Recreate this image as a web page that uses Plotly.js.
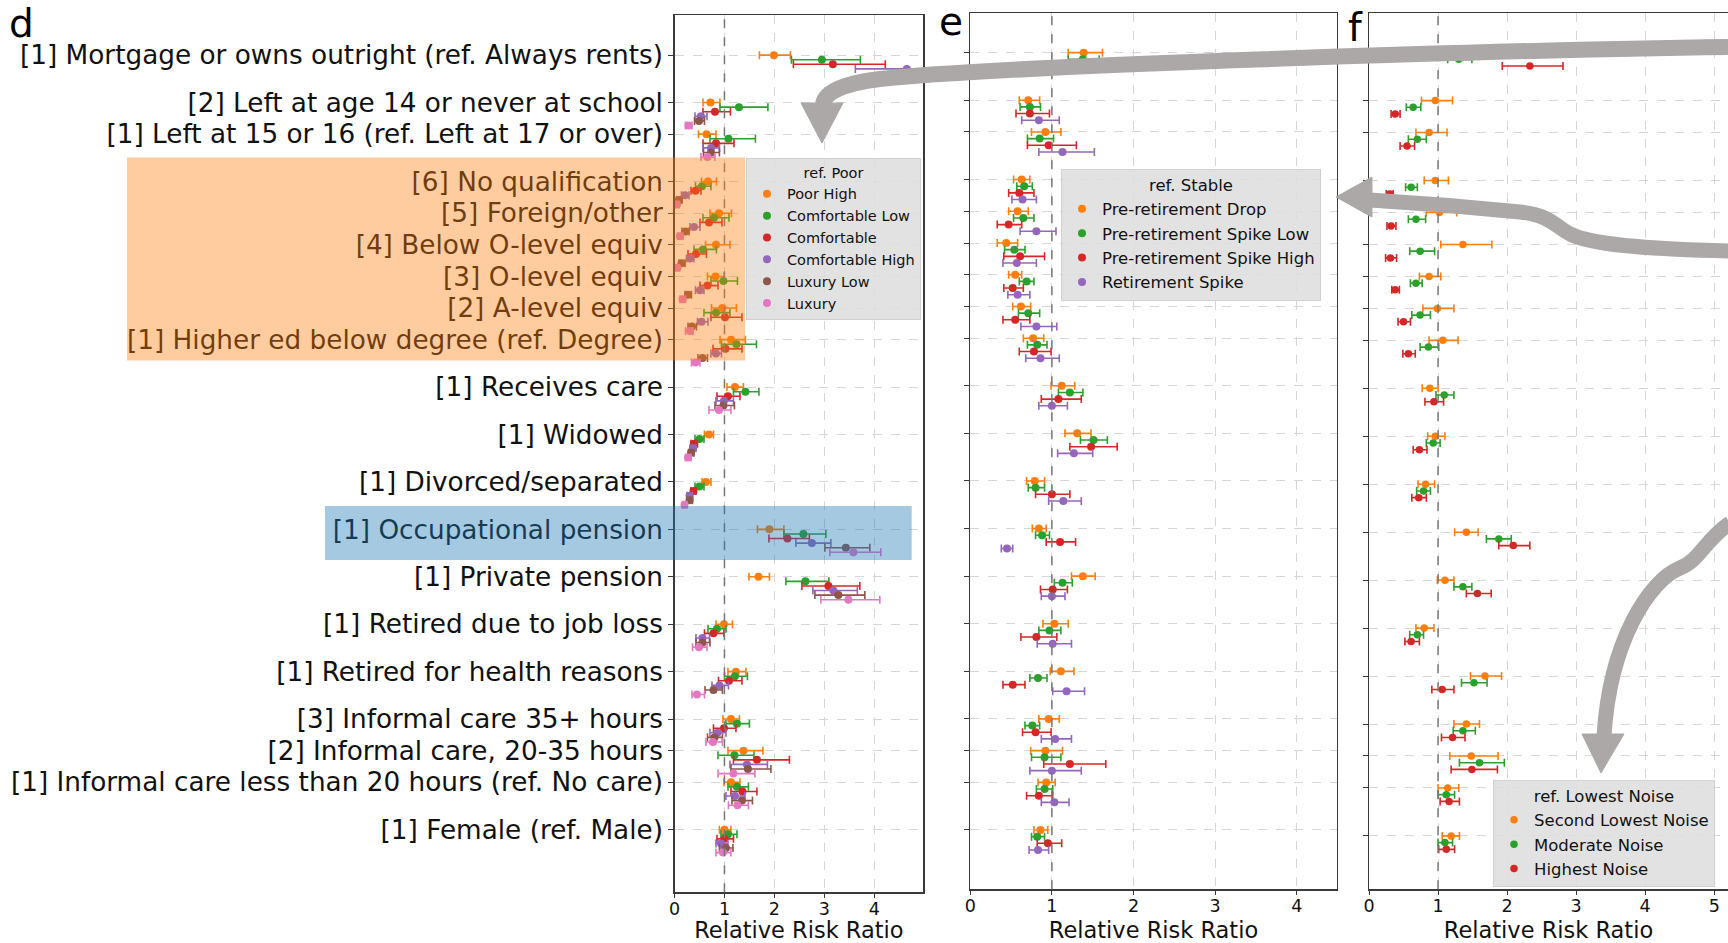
<!DOCTYPE html>
<html><head><meta charset="utf-8">
<script src="https://cdn.plot.ly/plotly-3.0.1.min.js"></script>
<style>html,body{margin:0;padding:0;background:#fff;}#chart{width:1728px;height:943px;}</style>
</head><body><div id="chart"></div>
<script>
// ---------- categories (top to bottom) ----------
const categories = [
  "[1] Mortgage or owns outright (ref. Always rents)",
  "[2] Left at age 14 or never at school",
  "[1] Left at 15 or 16 (ref. Left at 17 or over)",
  "[6] No qualification",
  "[5] Foreign/other",
  "[4] Below O-level equiv",
  "[3] O-level equiv",
  "[2] A-level equiv",
  "[1] Higher ed below degree (ref. Degree)",
  "[1] Receives care",
  "[1] Widowed",
  "[1] Divorced/separated",
  "[1] Occupational pension",
  "[1] Private pension",
  "[1] Retired due to job loss",
  "[1] Retired for health reasons",
  "[3] Informal care 35+ hours",
  "[2] Informal care, 20-35 hours",
  "[1] Informal care less than 20 hours (ref. No care)",
  "[1] Female (ref. Male)"
];
const xTicks = [0, 1, 2, 3, 4];
const xTicks3 = [0, 1, 2, 3, 4, 5];

// ---------- panel d (ref. Poor) ----------
const poorHigh_rr = [1.99,0.72,0.64,0.67,0.89,0.83,0.82,0.96,1.13,1.21,0.69,0.63,1.90,1.68,0.99,1.23,1.13,1.38,1.13,1.00];
const poorHigh_lo = [1.70,0.57,0.48,0.54,0.71,0.62,0.66,0.74,0.91,1.05,0.60,0.55,1.66,1.49,0.83,1.07,0.97,1.07,0.99,0.90];
const poorHigh_hi = [2.32,0.91,0.83,0.84,1.14,1.11,0.99,1.24,1.42,1.38,0.78,0.73,2.19,1.90,1.16,1.43,1.30,1.77,1.31,1.13];

const comfLow_rr = [2.95,1.29,1.08,0.55,0.79,0.57,0.98,0.83,1.24,1.42,0.50,0.50,2.58,2.62,0.85,1.21,1.25,1.20,1.25,1.07];
const comfLow_lo = [2.34,0.91,0.71,0.42,0.57,0.39,0.73,0.59,0.94,1.18,0.41,0.41,2.19,2.23,0.67,1.00,1.03,0.87,1.07,0.93];
const comfLow_hi = [3.72,1.87,1.62,0.73,1.09,0.84,1.26,1.11,1.64,1.69,0.59,0.59,3.03,3.09,1.03,1.46,1.50,1.59,1.48,1.25];

const comf_rr = [3.17,0.81,0.83,0.42,0.69,0.43,0.66,1.01,1.02,1.07,0.39,0.38,2.26,3.08,0.78,1.09,0.99,1.65,1.36,1.00];
const comf_lo = [2.38,0.57,0.57,0.33,0.51,0.27,0.51,0.73,0.77,0.85,0.33,0.33,1.89,2.55,0.60,0.88,0.78,1.18,1.13,0.85];
const comf_hi = [4.22,1.12,1.19,0.53,0.95,0.64,0.87,1.35,1.35,1.31,0.46,0.43,2.70,3.71,0.99,1.35,1.23,2.30,1.65,1.18];

const comfHigh_rr = [4.65,0.53,0.73,0.21,0.39,0.31,0.51,0.54,0.83,0.99,0.37,0.30,2.75,3.18,0.56,0.90,0.86,1.45,1.21,0.93];
const comfHigh_lo = [3.62,0.41,0.57,0.14,0.31,0.24,0.42,0.46,0.73,0.83,0.31,0.25,2.43,2.77,0.43,0.75,0.71,1.11,1.03,0.83];
const comfHigh_hi = [6.00,0.65,0.90,0.29,0.51,0.39,0.59,0.67,0.94,1.18,0.43,0.36,3.13,3.66,0.70,1.08,1.03,1.86,1.41,1.07];

const luxLow_rr = [5.60,0.49,0.73,0.09,0.22,0.14,0.27,0.35,0.56,0.98,0.33,0.30,3.43,3.28,0.56,0.78,0.80,1.47,1.35,1.03];
const luxLow_lo = [4.85,0.40,0.58,0.04,0.15,0.09,0.21,0.27,0.47,0.81,0.28,0.25,3.01,2.81,0.43,0.61,0.66,1.13,1.15,0.90];
const luxLow_hi = [6.60,0.60,0.90,0.15,0.29,0.21,0.34,0.44,0.66,1.20,0.39,0.36,3.91,3.81,0.71,0.96,0.96,1.93,1.56,1.17];

const lux_rr = [6.20,0.28,0.66,0.05,0.11,0.06,0.16,0.31,0.42,0.89,0.27,0.20,3.58,3.48,0.49,0.45,0.77,1.18,1.26,0.97];
const lux_lo = [5.30,0.22,0.53,0.02,0.06,0.03,0.11,0.22,0.34,0.69,0.22,0.16,3.11,2.93,0.36,0.35,0.63,0.87,1.08,0.83];
const lux_hi = [7.30,0.35,0.81,0.09,0.17,0.10,0.22,0.37,0.51,1.13,0.33,0.25,4.13,4.11,0.65,0.60,0.96,1.61,1.48,1.13];

// ---------- panel e (ref. Stable) ----------
const drop_rr = [1.39,0.71,0.92,0.63,0.58,0.44,0.55,0.62,0.77,1.12,1.31,0.79,0.84,1.38,1.03,1.11,0.96,0.92,0.93,0.86];
const drop_lo = [1.20,0.60,0.75,0.53,0.47,0.33,0.47,0.52,0.65,0.99,1.16,0.69,0.76,1.24,0.89,0.98,0.84,0.74,0.83,0.78];
const drop_hi = [1.62,0.85,1.11,0.73,0.71,0.58,0.63,0.74,0.90,1.28,1.48,0.91,0.93,1.53,1.20,1.27,1.09,1.13,1.04,0.95];

const spikeLow_rr = [1.38,0.73,0.85,0.66,0.65,0.54,0.69,0.71,0.82,1.22,1.51,0.80,0.88,1.13,0.97,0.83,0.76,0.91,0.91,0.82];
const spikeLow_lo = [1.20,0.61,0.70,0.57,0.53,0.42,0.60,0.59,0.70,1.08,1.35,0.71,0.80,1.03,0.84,0.73,0.67,0.75,0.81,0.75];
const spikeLow_hi = [1.58,0.86,1.02,0.76,0.78,0.67,0.78,0.85,0.94,1.38,1.68,0.91,0.97,1.25,1.11,0.94,0.85,1.11,1.01,0.91];

const spikeHigh_rr = [1.05,0.73,0.96,0.60,0.47,0.61,0.52,0.55,0.78,1.08,1.48,1.00,1.10,1.01,0.81,0.52,0.80,1.22,0.84,0.95];
const spikeHigh_lo = [0.80,0.56,0.70,0.47,0.33,0.41,0.41,0.40,0.60,0.87,1.22,0.80,0.93,0.86,0.62,0.40,0.64,0.90,0.69,0.82];
const spikeHigh_hi = [1.35,0.97,1.30,0.78,0.63,0.91,0.65,0.73,0.99,1.36,1.80,1.22,1.29,1.19,1.06,0.67,0.99,1.66,1.01,1.12];

const retSpike_rr = [0.60,0.84,1.13,0.64,0.81,0.57,0.58,0.81,0.86,1.00,1.27,1.14,0.45,1.00,1.01,1.18,1.04,1.00,1.03,0.83];
const retSpike_lo = [0.51,0.63,0.84,0.51,0.61,0.40,0.46,0.62,0.68,0.84,1.07,0.96,0.38,0.87,0.82,1.01,0.87,0.73,0.87,0.72];
const retSpike_hi = [0.70,1.09,1.52,0.81,1.05,0.81,0.73,1.06,1.09,1.19,1.50,1.36,0.52,1.16,1.24,1.40,1.24,1.36,1.21,0.96];

// ---------- panel f (ref. Lowest Noise) ----------
const second_rr = [1.22,0.96,0.87,0.96,1.02,1.36,0.87,0.99,1.07,0.88,0.96,0.82,1.41,1.10,0.80,1.68,1.41,1.48,1.14,1.19];
const second_lo = [1.05,0.76,0.68,0.80,0.83,1.04,0.73,0.78,0.87,0.77,0.85,0.71,1.24,0.99,0.68,1.47,1.23,1.17,1.00,1.06];
const second_hi = [1.42,1.21,1.13,1.15,1.27,1.78,1.04,1.23,1.29,1.00,1.10,0.95,1.58,1.23,0.94,1.92,1.60,1.87,1.30,1.31];

const moderate_rr = [1.30,0.64,0.70,0.61,0.68,0.74,0.68,0.74,0.86,1.09,0.93,0.79,1.88,1.36,0.70,1.52,1.36,1.60,1.12,1.10];
const moderate_lo = [1.14,0.54,0.57,0.53,0.57,0.59,0.60,0.62,0.74,0.97,0.83,0.69,1.70,1.23,0.59,1.34,1.22,1.31,1.00,1.00];
const moderate_hi = [1.49,0.75,0.83,0.70,0.82,0.95,0.77,0.89,1.01,1.23,1.03,0.89,2.06,1.49,0.79,1.71,1.54,1.96,1.24,1.21];

const highest_rr = [2.33,0.38,0.55,0.30,0.32,0.31,0.38,0.50,0.57,0.94,0.73,0.72,2.09,1.57,0.61,1.06,1.21,1.49,1.16,1.12];
const highest_lo = [1.93,0.32,0.45,0.25,0.26,0.24,0.33,0.42,0.49,0.81,0.64,0.62,1.88,1.41,0.52,0.91,1.05,1.19,1.03,1.01];
const highest_hi = [2.81,0.45,0.66,0.35,0.39,0.40,0.44,0.60,0.67,1.08,0.84,0.83,2.33,1.77,0.73,1.23,1.39,1.86,1.31,1.24];

// ---------- layout helpers ----------
const W = 1728, H = 943;
const FONT = "DejaVu Sans";
// spacing (in rows) between a category and the next one below it
const rowGaps = [1.5,1,1.5,1,1,1,1,1,1.5,1.5,1.5,1.5,1.5,1.5,1.5,1.5,1,1,1.5];
const pos = new Array(categories.length);
pos[categories.length - 1] = 0;
for (let i = categories.length - 2; i >= 0; i--) pos[i] = pos[i + 1] + rowGaps[i];

const C = {orange:"#ff7f0e", green:"#2ca02c", red:"#d62728", purple:"#9467bd", brown:"#8c564b", pink:"#e377c2"};

const traces = [];
function addPanel(series, xa, ya, legendId, step, msize) {
  series.forEach((s, i) => {
    traces.push({
      type: "scatter", mode: "markers", name: s.name,
      x: s.rr, y: pos.map(p => p - step * i),
      xaxis: xa, yaxis: ya, legend: legendId, showlegend: true,
      marker: {color: s.color, size: msize},
      error_x: {type: "data", symmetric: false,
        array: s.hi.map((h, k) => h - s.rr[k]),
        arrayminus: s.lo.map((l, k) => s.rr[k] - l),
        color: s.color, thickness: 1.6, width: 4},
      hoverinfo: "skip"
    });
  });
}
addPanel([
  {name:"Poor High", color:C.orange, rr:poorHigh_rr, lo:poorHigh_lo, hi:poorHigh_hi},
  {name:"Comfortable Low", color:C.green, rr:comfLow_rr, lo:comfLow_lo, hi:comfLow_hi},
  {name:"Comfortable", color:C.red, rr:comf_rr, lo:comf_lo, hi:comf_hi},
  {name:"Comfortable High", color:C.purple, rr:comfHigh_rr, lo:comfHigh_lo, hi:comfHigh_hi},
  {name:"Luxury Low", color:C.brown, rr:luxLow_rr, lo:luxLow_lo, hi:luxLow_hi},
  {name:"Luxury", color:C.pink, rr:lux_rr, lo:lux_lo, hi:lux_hi}
], "x", "y", "legend", 0.145, 8);
addPanel([
  {name:"Pre-retirement Drop", color:C.orange, rr:drop_rr, lo:drop_lo, hi:drop_hi},
  {name:"Pre-retirement Spike Low", color:C.green, rr:spikeLow_rr, lo:spikeLow_lo, hi:spikeLow_hi},
  {name:"Pre-retirement Spike High", color:C.red, rr:spikeHigh_rr, lo:spikeHigh_lo, hi:spikeHigh_hi},
  {name:"Retirement Spike", color:C.purple, rr:retSpike_rr, lo:retSpike_lo, hi:retSpike_hi}
], "x2", "y2", "legend2", 0.21, 8);
addPanel([
  {name:"Second Lowest Noise", color:C.orange, rr:second_rr, lo:second_lo, hi:second_hi},
  {name:"Moderate Noise", color:C.green, rr:moderate_rr, lo:moderate_lo, hi:moderate_hi},
  {name:"Highest Noise", color:C.red, rr:highest_rr, lo:highest_lo, hi:highest_hi}
], "x3", "y3", "legend3", 0.21, 7.5);

const fx = px => px / W;
const fy = py => 1 - py / H;
const P = (x, y) => `${fx(x).toFixed(5)},${fy(y).toFixed(5)}`;

const axLine = "#3a3a3a";
function xAxis(dom, range, yref, ticks, mirror) {
  return {domain: [fx(dom[0]), fx(dom[1])], range: range, anchor: yref,
    tickvals: ticks, ticks: "outside", ticklen: 4, tickcolor: axLine,
    ticklabelstandoff: -4,
    showline: true, linecolor: axLine, linewidth: 1.3, mirror: mirror,
    showgrid: true, gridcolor: "#d6d6d6", griddash: "dash", gridwidth: 1,
    zeroline: false, automargin: false, fixedrange: true,
    tickfont: {family: FONT, size: 17.5, color: "#111"},
    title: {text: "Relative Risk Ratio", font: {family: FONT, size: 22.5, color: "#111"}, standoff: 7}};
}
function yAxis(dom, range, xref, labels, mirror) {
  return {domain: [fy(dom[1]), fy(dom[0])], range: range, anchor: xref,
    tickvals: pos, ticktext: labels ? categories : pos.map(() => ""),
    showticklabels: !!labels,
    ticks: "outside", ticklen: 5, tickcolor: axLine,
    showline: true, linecolor: axLine, linewidth: 1.3, mirror: mirror,
    showgrid: true, gridcolor: "#d6d6d6", griddash: "dash", gridwidth: 1,
    zeroline: false, automargin: false, fixedrange: true,
    tickfont: {family: FONT, size: 26.3, color: "#111"}};
}

const grayArrow = "#aba8a7";
const shapes = [];
[["x","y"],["x2","y2"],["x3","y3"]].forEach(([xa, ya]) => {
  shapes.push({type:"line", xref:xa, yref:ya + " domain", x0:1, x1:1, y0:0, y1:1,
    line:{color:"#777", width:1.5, dash:"dash"}, layer:"above"});
});
// highlight boxes (drawn over labels and markers)
shapes.push({type:"rect", xref:"paper", yref:"paper", x0:fx(127), x1:fx(745), y0:fy(360.5), y1:fy(157.5),
  fillcolor:"rgba(255,127,14,0.4)", line:{width:0}, layer:"above"});
shapes.push({type:"rect", xref:"paper", yref:"paper", x0:fx(325), x1:fx(911.7), y0:fy(560), y1:fy(506),
  fillcolor:"rgba(31,119,180,0.4)", line:{width:0}, layer:"above"});
// arrows
shapes.push({type:"path", xref:"paper", yref:"paper", layer:"above",
  path:`M ${P(1730,47)} C ${P(1500,50)} ${P(1000,66)} ${P(880,79)} Q ${P(823,86)} ${P(823,106)}`,
  line:{color:grayArrow, width:16}});
shapes.push({type:"path", xref:"paper", yref:"paper", layer:"above",
  path:`M ${P(801,103)} L ${P(843,103)} L ${P(822,143)} Z`, fillcolor:grayArrow, line:{color:grayArrow, width:1}});
shapes.push({type:"path", xref:"paper", yref:"paper", layer:"above",
  path:`M ${P(1730,251)} C ${P(1640,249)} ${P(1590,244)} ${P(1570,234)} C ${P(1555,226)} ${P(1550,215)} ${P(1520,212)} C ${P(1470,207)} ${P(1420,203)} ${P(1370,200)}`,
  line:{color:grayArrow, width:15}});
shapes.push({type:"path", xref:"paper", yref:"paper", layer:"above",
  path:`M ${P(1372,177)} L ${P(1372,217)} L ${P(1336,197)} Z`, fillcolor:grayArrow, line:{color:grayArrow, width:1}});
shapes.push({type:"path", xref:"paper", yref:"paper", layer:"above",
  path:`M ${P(1730,523)} C ${P(1705,540)} ${P(1700,560)} ${P(1680,568)} C ${P(1650,580)} ${P(1610,640)} ${P(1604,736)}`,
  line:{color:grayArrow, width:15}});
shapes.push({type:"path", xref:"paper", yref:"paper", layer:"above",
  path:`M ${P(1582,734)} L ${P(1624,734)} L ${P(1601,773)} Z`, fillcolor:grayArrow, line:{color:grayArrow, width:1}});

const legendBase = (x, y, size, title) => ({
  x: fx(x), y: fy(y), xanchor: "left", yanchor: "top", xref: "paper", yref: "paper",
  bgcolor: "rgba(222,222,222,0.88)", bordercolor: "rgba(205,205,205,0.9)", borderwidth: 1,
  font: {family: FONT, size: size, color: "#111"},
  title: {text: title, side: "top center", font: {family: FONT, size: size, color: "#111"}},
  itemclick: false, itemdoubleclick: false, tracegroupgap: 0
});

const layout = {
  width: W, height: H, margin: {l:0, r:0, t:0, b:0},
  paper_bgcolor: "#fff", plot_bgcolor: "#fff",
  font: {family: FONT, color: "#111"},
  xaxis: xAxis([674.5, 923.3], [0, 4.98], "y", xTicks, true),
  yaxis: yAxis([15.3, 892.3], [-1.98, 25.76], "x", true, true),
  xaxis2: xAxis([970.3, 1336.7], [0, 4.49], "y2", xTicks, true),
  yaxis2: yAxis([13.3, 889.3], [-1.87, 25.74], "x2", false, true),
  xaxis3: xAxis([1369, 1728], [0, 5.2], "y3", xTicks3, true),
  yaxis3: yAxis([13.3, 889.3], [-1.67, 25.73], "x3", false, false),
  legend: legendBase(746, 158, 14.5, "ref. Poor"),
  legend2: legendBase(1061, 169, 16.5, "ref. Stable"),
  legend3: legendBase(1493, 780, 16.5, "ref. Lowest Noise"),
  shapes: shapes,
  annotations: [
    {text:"d", xref:"paper", yref:"paper", x:fx(7), y:fy(24), xanchor:"left", yanchor:"middle", showarrow:false, font:{family:FONT, size:39, color:"#000"}},
    {text:"e", xref:"paper", yref:"paper", x:fx(937), y:fy(21), xanchor:"left", yanchor:"middle", showarrow:false, font:{family:FONT, size:39, color:"#000"}},
    {text:"f", xref:"paper", yref:"paper", x:fx(1346), y:fy(28), xanchor:"left", yanchor:"middle", showarrow:false, font:{family:FONT, size:39, color:"#000"}}
  ],
  showlegend: true
};

Plotly.newPlot("chart", traces, layout, {staticPlot: true, displayModeBar: false});
</script>
</body></html>
